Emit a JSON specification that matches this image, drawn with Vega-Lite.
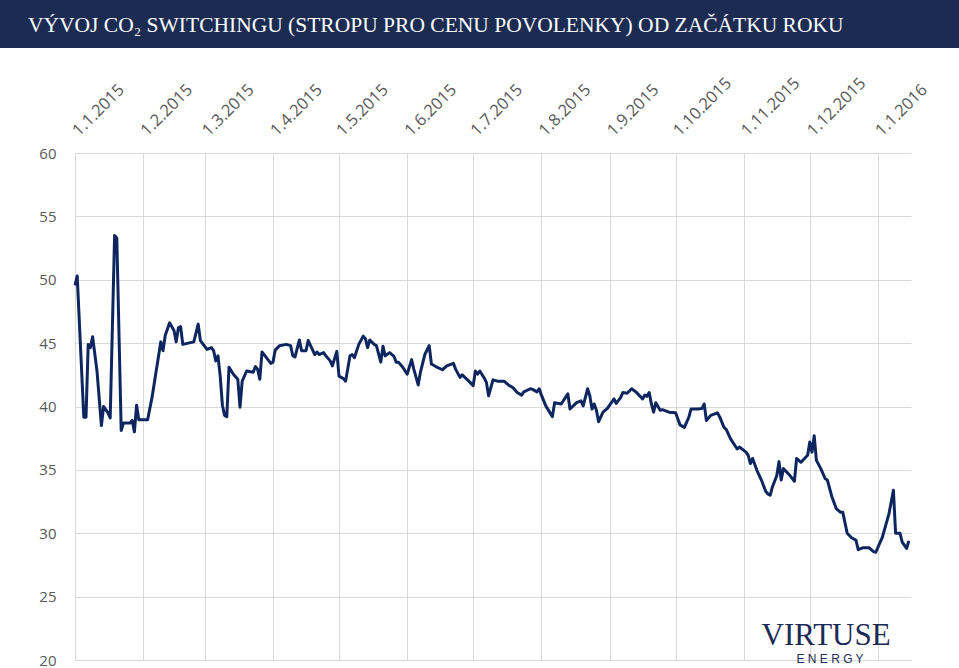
{
  "$schema": "https://vega.github.io/schema/vega-lite/v6.json",
  "background": "#ffffff",
  "padding": 0,
  "spacing": 0,
  "config": {"view": {"stroke": null}},
  "vconcat": [
    {
      "width": 884,
      "height": 48,
      "view": {"fill": "#1b2b52", "stroke": null},
      "data": {"values": [{"t": "VÝVOJ CO₂ SWITCHINGU (STROPU PRO CENU POVOLENKY) OD ZAČÁTKU ROKU"}]},
      "mark": {"type": "text", "align": "left", "baseline": "middle", "dx": -489, "dy": 2, "font": "Liberation Serif", "fontSize": 21.5, "color": "#ffffff"},
      "encoding": {
        "text": {"field": "t"},
        "y": {"datum": 0.5, "type": "quantitative", "scale": {"domain": [0, 1]},
              "axis": {"title": null, "labels": false, "ticks": false, "grid": false, "domain": true, "translate": 0, "domainCap": "butt", "domainColor": "#1b2b52", "domainWidth": 150}}
      }
    },
    {
      "width": 836,
      "height": 507,
      "data": {"values": [
        {"d":"2015-01-01","v":49.55},{"d":"2015-01-02","v":50.3},{"d":"2015-01-05","v":39.15},{"d":"2015-01-06","v":39.15},{"d":"2015-01-07","v":44.9},{"d":"2015-01-08","v":44.65},{"d":"2015-01-09","v":45.5},{"d":"2015-01-11","v":42.8},{"d":"2015-01-13","v":38.5},{"d":"2015-01-14","v":40.0},{"d":"2015-01-16","v":39.5},{"d":"2015-01-17","v":39.1},{"d":"2015-01-19","v":53.5},{"d":"2015-01-20","v":53.3},{"d":"2015-01-22","v":38.1},{"d":"2015-01-23","v":38.7},{"d":"2015-01-26","v":38.7},{"d":"2015-01-27","v":38.9},{"d":"2015-01-28","v":38.0},{"d":"2015-01-29","v":40.1},{"d":"2015-01-30","v":38.95},
        {"d":"2015-02-03","v":38.95},{"d":"2015-02-05","v":40.7},{"d":"2015-02-06","v":41.8},{"d":"2015-02-09","v":45.1},{"d":"2015-02-10","v":44.4},{"d":"2015-02-11","v":45.6},{"d":"2015-02-13","v":46.6},{"d":"2015-02-15","v":46.0},{"d":"2015-02-16","v":45.1},{"d":"2015-02-17","v":46.2},{"d":"2015-02-18","v":46.3},{"d":"2015-02-19","v":44.9},{"d":"2015-02-24","v":45.1},{"d":"2015-02-26","v":46.5},{"d":"2015-02-27","v":45.2},
        {"d":"2015-03-02","v":44.5},{"d":"2015-03-04","v":44.65},{"d":"2015-03-05","v":44.4},{"d":"2015-03-06","v":43.6},{"d":"2015-03-07","v":44.0},{"d":"2015-03-08","v":42.4},{"d":"2015-03-09","v":40.1},{"d":"2015-03-10","v":39.3},{"d":"2015-03-11","v":39.2},{"d":"2015-03-12","v":43.1},{"d":"2015-03-14","v":42.55},{"d":"2015-03-16","v":42.15},{"d":"2015-03-17","v":39.95},{"d":"2015-03-18","v":42.0},{"d":"2015-03-20","v":42.8},{"d":"2015-03-23","v":42.7},{"d":"2015-03-24","v":43.15},{"d":"2015-03-25","v":42.95},{"d":"2015-03-26","v":42.15},{"d":"2015-03-27","v":44.3},{"d":"2015-03-29","v":43.85},{"d":"2015-03-31","v":43.4},
        {"d":"2015-04-01","v":43.5},{"d":"2015-04-02","v":44.45},{"d":"2015-04-04","v":44.8},{"d":"2015-04-07","v":44.9},{"d":"2015-04-09","v":44.8},{"d":"2015-04-10","v":44.0},{"d":"2015-04-11","v":43.9},{"d":"2015-04-13","v":45.25},{"d":"2015-04-14","v":44.4},{"d":"2015-04-16","v":44.4},{"d":"2015-04-17","v":45.2},{"d":"2015-04-20","v":44.1},{"d":"2015-04-21","v":44.3},{"d":"2015-04-22","v":44.1},{"d":"2015-04-24","v":44.25},{"d":"2015-04-25","v":44.0},{"d":"2015-04-27","v":43.6},{"d":"2015-04-28","v":43.2},{"d":"2015-04-30","v":44.35},
        {"d":"2015-05-01","v":42.4},{"d":"2015-05-03","v":42.2},{"d":"2015-05-04","v":42.0},{"d":"2015-05-06","v":44.0},{"d":"2015-05-07","v":44.1},{"d":"2015-05-08","v":43.85},{"d":"2015-05-10","v":44.9},{"d":"2015-05-12","v":45.55},{"d":"2015-05-13","v":45.35},{"d":"2015-05-14","v":44.65},{"d":"2015-05-15","v":45.25},{"d":"2015-05-17","v":44.9},{"d":"2015-05-18","v":44.8},{"d":"2015-05-20","v":43.5},{"d":"2015-05-21","v":44.75},{"d":"2015-05-22","v":44.0},{"d":"2015-05-24","v":44.25},{"d":"2015-05-26","v":43.95},{"d":"2015-05-27","v":43.5},{"d":"2015-05-28","v":43.5},{"d":"2015-05-30","v":43.1},
        {"d":"2015-06-01","v":42.55},{"d":"2015-06-03","v":43.7},{"d":"2015-06-04","v":42.95},{"d":"2015-06-06","v":41.7},{"d":"2015-06-07","v":42.7},{"d":"2015-06-09","v":44.1},{"d":"2015-06-11","v":44.8},{"d":"2015-06-12","v":43.35},{"d":"2015-06-14","v":43.15},{"d":"2015-06-17","v":42.9},{"d":"2015-06-19","v":43.2},{"d":"2015-06-22","v":43.4},{"d":"2015-06-23","v":42.95},{"d":"2015-06-25","v":42.3},{"d":"2015-06-26","v":42.5},{"d":"2015-06-29","v":42.0},
        {"d":"2015-07-01","v":41.65},{"d":"2015-07-02","v":42.8},{"d":"2015-07-03","v":42.55},{"d":"2015-07-04","v":42.8},{"d":"2015-07-06","v":42.25},{"d":"2015-07-07","v":41.9},{"d":"2015-07-08","v":40.85},{"d":"2015-07-10","v":42.1},{"d":"2015-07-12","v":42.0},{"d":"2015-07-15","v":42.0},{"d":"2015-07-17","v":41.7},{"d":"2015-07-19","v":41.5},{"d":"2015-07-21","v":41.1},{"d":"2015-07-23","v":40.9},{"d":"2015-07-24","v":41.15},{"d":"2015-07-27","v":41.4},{"d":"2015-07-28","v":41.35},{"d":"2015-07-30","v":41.15},{"d":"2015-07-31","v":41.4},
        {"d":"2015-08-01","v":40.9},{"d":"2015-08-03","v":40.05},{"d":"2015-08-06","v":39.2},{"d":"2015-08-07","v":40.3},{"d":"2015-08-10","v":40.2},{"d":"2015-08-13","v":41.0},{"d":"2015-08-14","v":39.8},{"d":"2015-08-17","v":40.3},{"d":"2015-08-19","v":40.45},{"d":"2015-08-20","v":40.05},{"d":"2015-08-22","v":41.4},{"d":"2015-08-23","v":40.85},{"d":"2015-08-24","v":39.8},{"d":"2015-08-25","v":40.2},{"d":"2015-08-26","v":39.7},{"d":"2015-08-27","v":38.8},{"d":"2015-08-29","v":39.55},{"d":"2015-08-31","v":39.85},
        {"d":"2015-09-03","v":40.6},{"d":"2015-09-04","v":40.25},{"d":"2015-09-06","v":40.7},{"d":"2015-09-07","v":41.1},{"d":"2015-09-09","v":41.05},{"d":"2015-09-11","v":41.4},{"d":"2015-09-13","v":41.15},{"d":"2015-09-16","v":40.6},{"d":"2015-09-17","v":40.9},{"d":"2015-09-18","v":40.8},{"d":"2015-09-19","v":41.1},{"d":"2015-09-20","v":40.2},{"d":"2015-09-21","v":39.55},{"d":"2015-09-22","v":40.3},{"d":"2015-09-24","v":39.7},{"d":"2015-09-25","v":39.75},{"d":"2015-09-28","v":39.55},
        {"d":"2015-10-01","v":39.5},{"d":"2015-10-03","v":38.55},{"d":"2015-10-05","v":38.35},{"d":"2015-10-07","v":39.15},{"d":"2015-10-08","v":39.8},{"d":"2015-10-11","v":39.8},{"d":"2015-10-13","v":39.85},{"d":"2015-10-14","v":40.2},{"d":"2015-10-15","v":38.9},{"d":"2015-10-17","v":39.3},{"d":"2015-10-20","v":39.5},{"d":"2015-10-21","v":39.2},{"d":"2015-10-23","v":38.35},{"d":"2015-10-24","v":38.2},{"d":"2015-10-26","v":37.45},{"d":"2015-10-29","v":36.65},{"d":"2015-10-30","v":36.8},
        {"d":"2015-11-02","v":36.4},{"d":"2015-11-03","v":36.15},{"d":"2015-11-04","v":35.5},{"d":"2015-11-05","v":35.9},{"d":"2015-11-07","v":34.95},{"d":"2015-11-09","v":34.2},{"d":"2015-11-11","v":33.3},{"d":"2015-11-12","v":33.1},{"d":"2015-11-13","v":33.0},{"d":"2015-11-14","v":33.65},{"d":"2015-11-16","v":34.55},{"d":"2015-11-17","v":35.65},{"d":"2015-11-18","v":34.2},{"d":"2015-11-19","v":35.1},{"d":"2015-11-22","v":34.55},{"d":"2015-11-24","v":34.1},{"d":"2015-11-25","v":35.9},{"d":"2015-11-27","v":35.6},{"d":"2015-11-30","v":36.15},
        {"d":"2015-12-01","v":37.2},{"d":"2015-12-02","v":36.4},{"d":"2015-12-03","v":37.7},{"d":"2015-12-04","v":35.75},{"d":"2015-12-06","v":35.1},{"d":"2015-12-08","v":34.3},{"d":"2015-12-09","v":34.2},{"d":"2015-12-11","v":32.9},{"d":"2015-12-13","v":31.95},{"d":"2015-12-15","v":31.65},{"d":"2015-12-16","v":31.65},{"d":"2015-12-18","v":30.0},{"d":"2015-12-20","v":29.65},{"d":"2015-12-22","v":29.45},{"d":"2015-12-23","v":28.7},{"d":"2015-12-25","v":28.85},{"d":"2015-12-28","v":28.85},{"d":"2015-12-30","v":28.55},{"d":"2015-12-31","v":28.5},
        {"d":"2016-01-03","v":29.7},{"d":"2016-01-06","v":31.55},{"d":"2016-01-08","v":33.4},{"d":"2016-01-09","v":30.0},{"d":"2016-01-11","v":30.0},{"d":"2016-01-12","v":29.3},{"d":"2016-01-14","v":28.8},{"d":"2016-01-15","v":29.4}
      ]},
      "layer": [
        {
          "mark": {"type": "line", "color": "#0e2660", "strokeWidth": 3, "strokeJoin": "round"},
          "encoding": {
            "x": {
              "field": "d", "type": "temporal",
              "scale": {"type": "utc", "domain": [{"year": 2015, "month": 1, "date": 1, "utc": true}, {"year": 2016, "month": 1, "date": 16, "utc": true}]},
              "axis": {
                "orient": "top", "title": " ", "titleX": 400, "titleY": -105, "titleBaseline": "top", "titleAngle": 0,
                "format": "%-d.%-m.%Y", "tickCount": {"interval": "month", "step": 1},
                "labelAngle": -45, "labelAlign": "left", "labelBaseline": "middle", "labelPadding": 20,
                "labelFlush": false, "labelOverlap": false,
                "labelFont": "Open Sans", "labelFontSize": 16.5, "labelColor": "#595959",
                "ticks": false, "domain": false, "grid": true, "gridColor": "#d9d9d9", "gridWidth": 1
              }
            },
            "y": {
              "field": "v", "type": "quantitative",
              "scale": {"domain": [20, 60], "nice": false, "zero": false},
              "axis": {
                "title": " ", "titleX": -75, "titleY": 250, "titleAngle": 0, "titleAlign": "left", "titleBaseline": "middle",
                "values": [20, 25, 30, 35, 40, 45, 50, 55, 60],
                "labelFont": "Open Sans", "labelFontSize": 15, "labelColor": "#595959", "labelPadding": 19,
                "ticks": false, "domain": false, "grid": true, "gridColor": "#d9d9d9", "gridWidth": 1
              }
            }
          }
        },
        {
          "data": {"values": [{"t": "VIRTUSE"}]},
          "mark": {"type": "text", "font": "Liberation Serif", "fontSize": 31, "color": "#1b2b55", "align": "center", "baseline": "middle"},
          "encoding": {
            "x": {"datum": {"year": 2015, "month": 12, "date": 8, "hours": 10, "utc": true}, "type": "temporal"},
            "y": {"datum": 21.9, "type": "quantitative"},
            "text": {"field": "t"}
          }
        },
        {
          "data": {"values": [{"t": "E N E R G Y"}]},
          "mark": {"type": "text", "font": "Liberation Sans", "fontSize": 12, "color": "#1b2b55", "align": "center", "baseline": "middle"},
          "encoding": {
            "x": {"datum": {"year": 2015, "month": 12, "date": 10, "hours": 5, "utc": true}, "type": "temporal"},
            "y": {"datum": 20.1, "type": "quantitative"},
            "text": {"field": "t"}
          }
        }
      ]
    }
  ]
}
